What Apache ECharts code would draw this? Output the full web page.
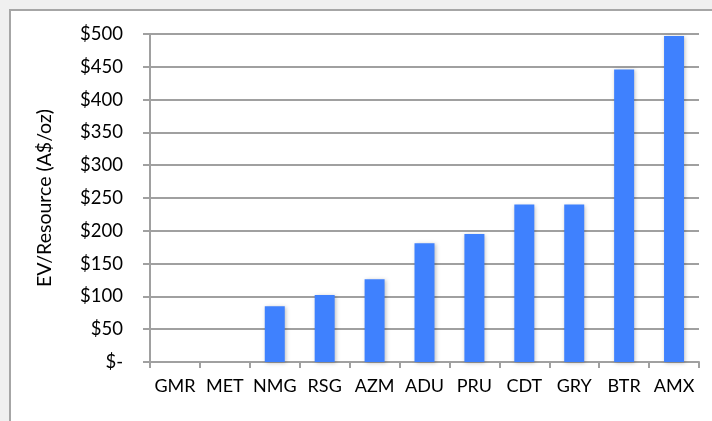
<!DOCTYPE html>
<html>
<head>
<meta charset="utf-8">
<script src="https://cdn.jsdelivr.net/npm/echarts@6/dist/echarts.min.js"></script>
<style>
  html, body { margin: 0; padding: 0; background: #f0f0f0; overflow: hidden; }
  #frame { position: absolute; left: 9px; top: 9px; width: 720px; height: 430px; background: #fff; border: 2px solid #a6a6a6; }
  #main { position: absolute; left: 0; top: 0; width: 712px; height: 421px; }
</style>
</head>
<body>
<div id="frame"></div>
<div id="main"></div>
<script>
const categories = ['GMR', 'MET', 'NMG', 'RSG', 'AZM', 'ADU', 'PRU', 'CDT', 'GRY', 'BTR', 'AMX'];
const evResource = [0, 0, 85, 102, 126, 181, 195, 240, 240, 446, 497];
const yTicks = [0, 50, 100, 150, 200, 250, 300, 350, 400, 450, 500];

const chart = echarts.init(document.getElementById('main'));

const option = {
  backgroundColor: 'transparent',
  animation: false,
  grid: { left: 150, right: 13, top: 34, bottom: 59 },
  xAxis: {
    type: 'category',
    data: categories,
    axisLine: { lineStyle: { color: '#a0a0a0', width: 2 } },
    axisTick: { show: true, length: 6, lineStyle: { color: '#a0a0a0', width: 2 } },
    axisLabel: { color: '#000', fontSize: 18, fontFamily: 'Lato', margin: 15, interval: 0, hideOverlap: false }
  },
  yAxis: {
    type: 'value',
    min: yTicks[0],
    max: yTicks[yTicks.length - 1],
    interval: 50,
    name: 'EV/Resource (A$/oz)',
    nameLocation: 'middle',
    nameGap: 95,
    nameTextStyle: { color: '#000', fontSize: 19.5, fontFamily: 'Lato' },
    axisLine: { show: true, lineStyle: { color: '#a0a0a0', width: 2 } },
    axisTick: { show: true, inside: false, length: 7, lineStyle: { color: '#a0a0a0', width: 2 } },
    splitLine: { show: true, lineStyle: { color: '#a0a0a0', width: 2 } },
    axisLabel: {
      color: '#000', fontSize: 18.5, fontFamily: 'Lato', margin: 27,
      formatter: v => v === 0 ? '$-' : '$' + v
    }
  },
  series: [{
    type: 'bar',
    data: evResource,
    barWidth: 20,
    itemStyle: {
      color: '#3f81fe',
      shadowColor: 'rgba(0,0,0,0.25)',
      shadowBlur: 4,
      shadowOffsetX: 1,
      shadowOffsetY: 1
    }
  }]
};

chart.setOption(option);
</script>
</body>
</html>
